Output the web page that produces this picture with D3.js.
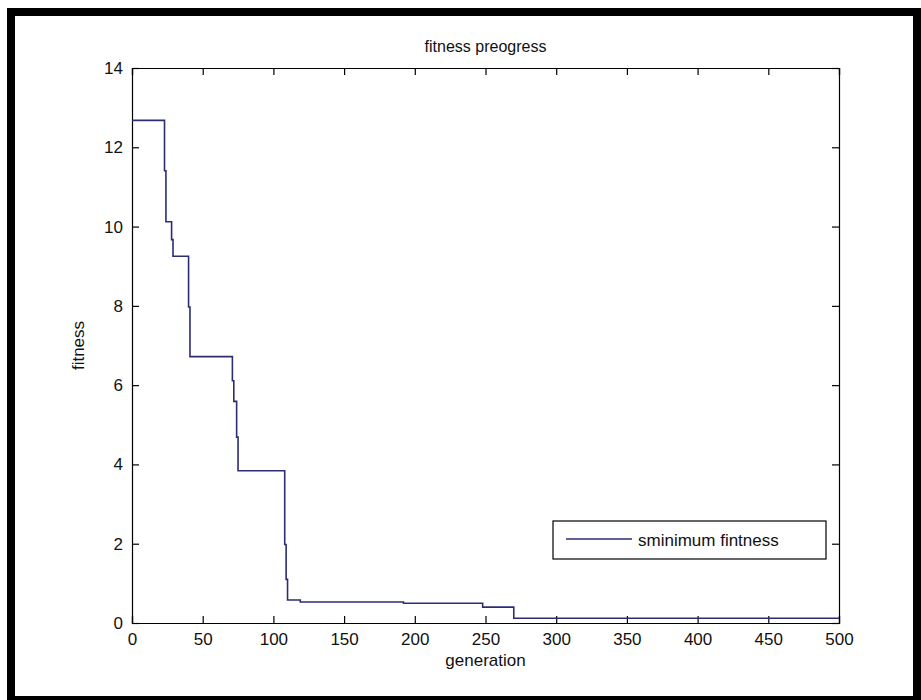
<!DOCTYPE html>
<html>
<head>
<meta charset="utf-8">
<script src="https://cdn.jsdelivr.net/npm/d3@7"></script>
<style>
    body { margin: 0; background: #fff; }
    svg text { font-family: "Liberation Sans Narrow", "Liberation Sans", Arial, sans-serif; fill: #111; }
</style>
</head>
<body>
<div id="chart"></div>
<script>
/*=====================================================================
 data
======================================================================*/
// generation where the best fitness changes, and the value from there on
var generations = [0, 23, 24, 28, 29, 40, 41, 71, 72, 74, 75, 108, 109, 110, 119, 192, 248, 270, 500];
var minFitness = [12.68, 11.41, 10.12, 9.67, 9.25, 7.97, 6.72, 6.11, 5.59, 4.69, 3.84, 1.98, 1.10, 0.58, 0.53, 0.50, 0.40, 0.12, 0.12];

var xTicks = [0, 50, 100, 150, 200, 250, 300, 350, 400, 450, 500];
var yTicks = [0, 2, 4, 6, 8, 10, 12, 14];

var titleText = "fitness preogress";
var xLabelText = "generation";
var yLabelText = "fitness";
var legendText = "sminimum fintness";

/*=====================================================================
 dimensions
======================================================================*/
var W = 921, H = 700;
var plotLeft = 132, plotRight = 839, plotTop = 68, plotBottom = 623;
var tickLen = 7;
var lineColor = "#2d2d74";
var fontStack = "'Liberation Sans Narrow', 'Liberation Sans', Arial, sans-serif";

var svg = d3.select("#chart").append("svg")
    .attr("width", W)
    .attr("height", H);

// outer black frame of the screenshot
svg.append("rect").attr("x", 0).attr("y", 0).attr("width", W).attr("height", H).attr("fill", "#fff");
svg.append("rect").attr("x", 7).attr("y", 8).attr("width", W - 7).attr("height", 8).attr("fill", "#000");
svg.append("rect").attr("x", 7).attr("y", 8).attr("width", 8).attr("height", H - 8).attr("fill", "#000");
svg.append("rect").attr("x", 7).attr("y", 696).attr("width", W - 7).attr("height", 4).attr("fill", "#000");
svg.append("rect").attr("x", 913).attr("y", 8).attr("width", 8).attr("height", H - 8).attr("fill", "#000");

var x = d3.scaleLinear().domain([0, 500]).range([plotLeft, plotRight]);
var y = d3.scaleLinear().domain([0, 14]).range([plotBottom, plotTop]);

/*=====================================================================
 axes (matlab box: ticks inside on all four sides)
======================================================================*/
var gx = svg.append("g").attr("transform", "translate(0," + plotBottom + ")")
    .call(d3.axisBottom(x).tickValues(xTicks).tickSize(-tickLen).tickPadding(10).tickFormat(d3.format("d")));
var gxTop = svg.append("g").attr("transform", "translate(0," + plotTop + ")")
    .call(d3.axisTop(x).tickValues(xTicks).tickSize(-tickLen).tickFormat(""));
var gy = svg.append("g").attr("transform", "translate(" + plotLeft + ",0)")
    .call(d3.axisLeft(y).tickValues(yTicks).tickSize(-tickLen).tickPadding(9).tickFormat(d3.format("d")));
var gyRight = svg.append("g").attr("transform", "translate(" + plotRight + ",0)")
    .call(d3.axisRight(y).tickValues(yTicks).tickSize(-tickLen).tickFormat(""));

[gx, gxTop, gy, gyRight].forEach(function (g) {
    g.select(".domain").attr("stroke", "#000").attr("stroke-width", 1.2);
    g.selectAll(".tick line").attr("stroke", "#000").attr("stroke-width", 1.2);
    g.selectAll(".tick text").attr("font-size", 17).attr("fill", "#111")
        .style("font-family", fontStack);
});

/*=====================================================================
 step line
======================================================================*/
var points = generations.map(function (g, i) { return [g, minFitness[i]]; });

var line = d3.line()
    .x(function (d) { return x(d[0]); })
    .y(function (d) { return y(d[1]); })
    .curve(d3.curveStepAfter);

svg.append("path")
    .datum(points)
    .attr("d", line)
    .attr("fill", "none")
    .attr("stroke", lineColor)
    .attr("stroke-width", 1.6);

/*=====================================================================
 labels
======================================================================*/
svg.append("text")
    .attr("x", (plotLeft + plotRight) / 2).attr("y", 52)
    .attr("text-anchor", "middle")
    .attr("font-size", 16)
    .text(titleText);

svg.append("text")
    .attr("x", (plotLeft + plotRight) / 2).attr("y", 666)
    .attr("text-anchor", "middle")
    .attr("font-size", 17)
    .text(xLabelText);

svg.append("text")
    .attr("transform", "translate(84," + ((plotTop + plotBottom) / 2) + ") rotate(-90)")
    .attr("text-anchor", "middle")
    .attr("font-size", 17)
    .text(yLabelText);

/*=====================================================================
 legend
======================================================================*/
var legend = svg.append("g");

legend.append("rect")
    .attr("x", 553).attr("y", 521)
    .attr("width", 273).attr("height", 38)
    .attr("fill", "#fff")
    .attr("stroke", "#000")
    .attr("stroke-width", 1.2);

legend.append("line")
    .attr("x1", 566).attr("x2", 632)
    .attr("y1", 539).attr("y2", 539)
    .attr("stroke", lineColor)
    .attr("stroke-width", 1.6);

legend.append("text")
    .attr("x", 638).attr("y", 546)
    .attr("font-size", 17)
    .text(legendText);
</script>
</body>
</html>
